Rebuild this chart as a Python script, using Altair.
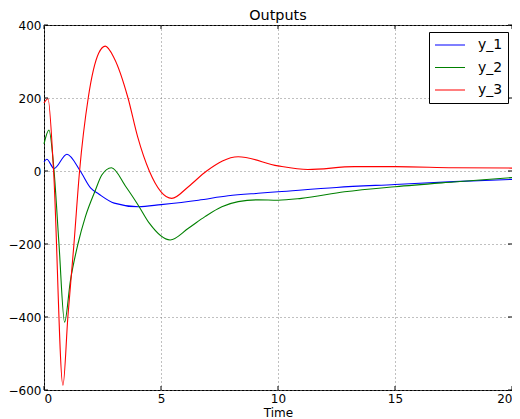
import altair as alt
import pandas as pd

# ---- data ----
series = ["y_1", "y_2", "y_3"]
colors = ["#0000ff", "#008000", "#ff0000"]

t_1 = [0, 0.12, 0.43, 0.98, 1.55, 2.0, 2.34, 3.0, 4.04, 5.0, 6.6, 7.87, 9.15, 10, 12.5, 15, 17.5, 20]
v_1 = [25, 32, 7, 46, 0, -47, -63, -88, -98, -92, -80, -68, -61, -57, -45, -37, -29, -23]

t_2 = [0, 0.21, 0.43, 0.64, 0.88, 1.13, 1.45, 1.77, 2.2, 2.47, 2.88, 3.5, 4.04, 4.5, 5.39, 6.17, 6.88, 7.6, 8.3, 9.15, 10, 11, 12.84, 15, 17.5, 20]
v_2 = [74, 112, 0, -200, -414, -300, -200, -125, -52, -11, 9, -43, -95, -143, -189, -157, -125, -98, -84, -79, -80, -75, -57, -43, -30, -18]

t_3 = [0, 0.17, 0.41, 0.81, 1.02, 1.28, 1.52, 1.89, 2.34, 2.62, 3.0, 3.59, 4.0, 4.5, 5.46, 6.17, 6.95, 8.3, 10, 11.28, 13.26, 15, 17.5, 20]
v_3 = [186, 198, 0, -587, -400, -200, 0, 200, 323, 342, 309, 200, 94, 0, -75, -43, 0, 39, 14, 4, 12, 12, 9, 8]

x_ticks = [0, 5, 10, 15, 20]
y_ticks = [-600, -400, -200, 0, 200, 400]

rows = []
for name, ts, vs in zip(series, [t_1, t_2, t_3], [v_1, v_2, v_3]):
    for t, v in zip(ts, vs):
        rows.append({"t": t, "v": v, "series": name})
df = pd.DataFrame(rows)

W, H = 468, 365
xs = alt.Scale(domain=[0, 20], nice=False, zero=False)
ys = alt.Scale(domain=[-600, 400], nice=False, zero=False)
x_axis = alt.Axis(title="Time", values=x_ticks, labelPadding=3, titlePadding=3)
y_axis = alt.Axis(title=None, values=y_ticks, labelPadding=3)

lines = alt.Chart(df).mark_line(strokeWidth=1.1, interpolate="monotone").encode(
    x=alt.X("t:Q", scale=xs, axis=x_axis),
    y=alt.Y("v:Q", scale=ys, axis=y_axis),
    color=alt.Color("series:N", scale=alt.Scale(domain=series, range=colors),
                    legend=alt.Legend(title=None, orient="none", legendX=385, legendY=7,
                                      symbolType="stroke", symbolSize=900, symbolStrokeWidth=1.1,
                                      labelFontSize=14, labelFont="DejaVu Sans", labelColor="black",
                                      strokeColor="black", fillColor="white", padding=5,
                                      clipHeight=16, rowPadding=6.5, labelOffset=12,
                                      cornerRadius=0)),
)

xt = pd.DataFrame({"t": x_ticks})
yt = pd.DataFrame({"v": y_ticks})

tick_bottom = alt.Chart(xt).mark_rule(color="black", strokeWidth=1).encode(
    x=alt.X("t:Q", scale=xs, axis=x_axis), y=alt.value(H), y2=alt.value(H - 4))
tick_top = alt.Chart(xt).mark_rule(color="black", strokeWidth=1).encode(
    x=alt.X("t:Q", scale=xs, axis=x_axis), y=alt.value(0), y2=alt.value(4))
tick_left = alt.Chart(yt).mark_rule(color="black", strokeWidth=1).encode(
    y=alt.Y("v:Q", scale=ys, axis=y_axis), x=alt.value(0), x2=alt.value(4))
tick_right = alt.Chart(yt).mark_rule(color="black", strokeWidth=1).encode(
    y=alt.Y("v:Q", scale=ys, axis=y_axis), x=alt.value(W), x2=alt.value(W - 4))

chart = alt.layer(lines, tick_bottom, tick_top, tick_left, tick_right).properties(
    width=W, height=H,
    title=alt.TitleParams("Outputs", fontSize=14.4, font="DejaVu Sans", fontWeight="normal",
                          color="black", offset=-4, anchor="middle", frame="group"),
    autosize=alt.AutoSizeParams(type="none"),
    padding={"left": 36, "top": 17, "right": 0, "bottom": 29},
).configure_axis(
    grid=True, gridColor="#808080", gridDash=[1, 3], gridWidth=1, gridOpacity=1,
    domain=False, ticks=False,
    labelFont="DejaVu Sans", labelFontSize=12, labelColor="black",
    titleFont="DejaVu Sans", titleFontSize=12, titleFontWeight="normal", titleColor="black",
).configure_view(stroke="black", strokeWidth=1)

chart.save("out.html", embed_options={"renderer": "svg", "actions": False})
